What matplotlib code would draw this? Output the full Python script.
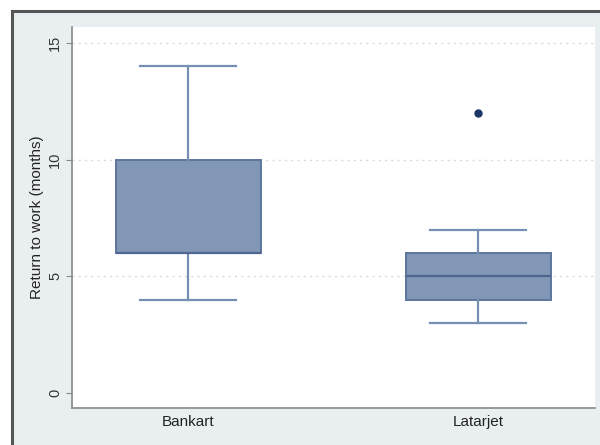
import matplotlib
matplotlib.use("Agg")
import matplotlib.pyplot as plt
from matplotlib.patches import Rectangle
from matplotlib.lines import Line2D

plt.rcParams['font.family'] = ['Liberation Sans', 'DejaVu Sans']

categories = ["Bankart", "Latarjet"]
q1 = [6, 4]
median = [6, 5]
q3 = [10, 6]
whisker_low = [4, 3]
whisker_high = [14, 7]
outliers = [[], [12]]
y_ticks = [0, 5, 10, 15]
y_label = "Return to work (months)"

W, H = 600, 445
fig = plt.figure(figsize=(6, 4.45), dpi=100)
fig.patch.set_facecolor("white")

# outer Stata-like background region and frame
fig.add_artist(Rectangle((12 / W, 0), 1 - 12 / W, 1 - 11 / H, transform=fig.transFigure,
                         facecolor="#e9eff1", edgecolor="none", zorder=0))
fig.add_artist(Line2D([12 / W, 12 / W], [0, 1 - 11 / H], transform=fig.transFigure,
                      color="#555555", lw=2.2, zorder=1))
fig.add_artist(Line2D([12 / W, 1], [1 - 11 / H, 1 - 11 / H], transform=fig.transFigure,
                      color="#555555", lw=2.2, zorder=1))

ax = fig.add_axes([72 / W, 1 - 408 / H, (595 - 72) / W, (408 - 27) / H])
ax.set_facecolor("white")

stats = []
for i, c in enumerate(categories):
    stats.append(dict(label=c, q1=q1[i], med=median[i], q3=q3[i],
                      whislo=whisker_low[i], whishi=whisker_high[i], fliers=outliers[i]))

positions = list(range(len(categories)))
ax.bxp(stats, positions=positions, widths=0.5, patch_artist=True, showcaps=True,
       boxprops=dict(facecolor="#8197b5", edgecolor="#5d769c", linewidth=1.4),
       medianprops=dict(color="#4f6790", linewidth=1.6),
       whiskerprops=dict(color="#7690b4", linewidth=1.6),
       capprops=dict(color="#7690b4", linewidth=1.6),
       capwidths=0.33,
       flierprops=dict(marker="o", markerfacecolor="#1a3566", markeredgecolor="#1a3566",
                       markersize=5))

ax.set_xlim(-0.4, 1.403)
ax.set_ylim(-0.64, 15.69)
ax.set_yticks(y_ticks)
ax.set_yticklabels([str(t) for t in y_ticks], rotation=90, va="center", fontsize=10.5, color="#333333")
ax.set_xticks(positions)
ax.set_xticklabels(categories, fontsize=11, color="#222222")
ax.tick_params(axis="x", length=0, pad=5)
ax.tick_params(axis="y", length=4, color="#888888", pad=3)
ax.set_ylabel(y_label, fontsize=11, color="#222222", labelpad=3)

for t in y_ticks[1:]:
    ax.axhline(t, color="#e3d6d6", lw=1.0, ls=(0, (1.5, 3)), zorder=0)

for s in ["top", "right"]:
    ax.spines[s].set_visible(False)
for s in ["left", "bottom"]:
    ax.spines[s].set_color("#888888")
    ax.spines[s].set_linewidth(1.2)

fig.savefig("out.png", dpi=100)
